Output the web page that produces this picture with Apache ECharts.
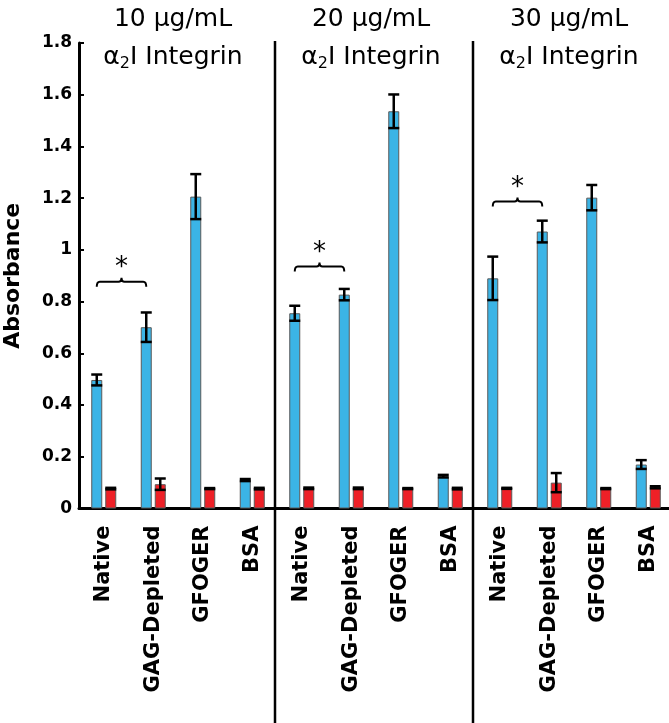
<!DOCTYPE html>
<html>
<head>
<meta charset="utf-8">
<script src="https://cdn.jsdelivr.net/npm/echarts@6/dist/echarts.min.js"></script>
<style>
html,body{margin:0;padding:0;background:#fff;}
#chart{width:669px;height:723px;}
</style>
</head>
<body>
<div id="chart"></div>
<script>
// ---- data ----
const categories = ['Native','GAG-Depleted','GFOGER','BSA','Native','GAG-Depleted','GFOGER','BSA','Native','GAG-Depleted','GFOGER','BSA'];
const panelTitles = ['10 μg/mL','20 μg/mL','30 μg/mL'];
const blueValues = [0.497, 0.701, 1.206, 0.110, 0.755, 0.827, 1.536, 0.125, 0.890, 1.071, 1.202, 0.170];
const blueErrors = [0.021, 0.057, 0.087, 0.004, 0.029, 0.022, 0.065, 0.005, 0.084, 0.042, 0.049, 0.017];
const redValues  = [0.077, 0.094, 0.077, 0.077, 0.078, 0.078, 0.077, 0.077, 0.078, 0.100, 0.077, 0.082];
const redErrors  = [0.003, 0.022, 0.002, 0.003, 0.003, 0.003, 0.002, 0.003, 0.002, 0.037, 0.002, 0.004];
const yTicks = [0, 0.2, 0.4, 0.6, 0.8, 1, 1.2, 1.4, 1.6, 1.8];
const panelBoundaries = [3, 7];           // separator after these category indices
const sigBrackets = [[0, 1, 0.877], [4, 5, 0.936], [8, 9, 1.187]]; // [from, to, height]

// ---- styles ----
const FONT = 'DejaVu Sans';
const BLUE = '#3bb4e6';
const RED = '#ee2027';
const BAR_W = 11;
const GAP_PX = 3;
const HALF = (BAR_W + GAP_PX) / 2;

const chart = echarts.init(document.getElementById('chart'), null, {renderer: 'canvas'});

const errData = [];
blueValues.forEach((v, i) => errData.push([i, v, blueErrors[i], 0]));
redValues.forEach((v, i) => errData.push([i, v, redErrors[i], 1]));

const option = {
  animation: false,
  backgroundColor: '#fff',
  grid: {left: 79, right: -4, top: 43, bottom: 214.5, containLabel: false, outerBoundsMode: 'none'},
  xAxis: {
    type: 'category',
    data: categories,
    boundaryGap: true,
    axisLine: {show: true, lineStyle: {color: '#000', width: 3}},
    axisTick: {show: false},
    axisLabel: {
      rotate: 90, interval: 0, margin: 17,
      fontFamily: FONT, fontWeight: 'bold', fontSize: 21, color: '#000'
    }
  },
  yAxis: {
    type: 'value',
    min: yTicks[0], max: yTicks[yTicks.length - 1], interval: 0.2,
    name: 'Absorbance',
    nameLocation: 'middle',
    nameRotate: 90,
    nameGap: 55,
    nameTextStyle: {fontFamily: FONT, fontWeight: 'bold', fontSize: 22, color: '#000'},
    axisLine: {show: true, lineStyle: {color: '#000', width: 3}},
    axisTick: {show: true, inside: true, length: 5, lineStyle: {color: '#000', width: 2}},
    axisLabel: {
      margin: 7, fontFamily: FONT, fontWeight: 'bold', fontSize: 17, color: '#000',
      formatter: v => String(Math.round(v * 10) / 10)
    },
    splitLine: {show: false}
  },
  series: [
    {
      type: 'bar', name: 'blue', data: blueValues, barWidth: BAR_W, barGap: (GAP_PX / BAR_W * 100) + '%',
      itemStyle: {color: BLUE, borderColor: '#5a5a5a', borderWidth: 1}, z: 2
    },
    {
      type: 'bar', name: 'red', data: redValues, barWidth: BAR_W,
      itemStyle: {color: RED, borderColor: '#5a5a5a', borderWidth: 1}, z: 2
    },
    {
      type: 'custom', name: 'errors', data: errData, z: 5,
      encode: {x: 0, y: 1},
      renderItem: function (params, api) {
        const i = api.value(0), v = api.value(1), e = api.value(2), s = api.value(3);
        const c = api.coord([i, v]);
        const x = c[0] + (s === 0 ? -HALF : HALF);
        const hi = api.coord([i, v + e])[1];
        const lo = api.coord([i, v - e])[1];
        const cap = BAR_W / 2;
        const st = {stroke: '#000', lineWidth: 2.5};
        return {type: 'group', children: [
          {type: 'line', shape: {x1: x, y1: hi, x2: x, y2: lo}, style: st},
          {type: 'line', shape: {x1: x - cap, y1: hi, x2: x + cap, y2: hi}, style: st},
          {type: 'line', shape: {x1: x - cap, y1: lo, x2: x + cap, y2: lo}, style: st}
        ]};
      }
    },
    {
      type: 'custom', name: 'separators', data: panelBoundaries.map(b => [b, yTicks[yTicks.length - 1]]), z: 6,
      encode: {x: 0, y: 1},
      renderItem: function (params, api) {
        const i = api.value(0);
        const a = api.coord([i, api.value(1)]);
        const b = api.coord([i + 1, api.value(1)]);
        const x = (a[0] + b[0]) / 2 - 2;
        return {type: 'line', shape: {x1: x, y1: a[1] - 2, x2: x, y2: api.getHeight()},
          style: {stroke: '#000', lineWidth: 2.5}};
      }
    },
    {
      type: 'custom', name: 'significance', data: sigBrackets, z: 6,
      encode: {x: 0, y: 2},
      renderItem: function (params, api) {
        const f = api.value(0), t = api.value(1), h = api.value(2);
        const p1 = api.coord([f, h]), p2 = api.coord([t, h]);
        const x1 = p1[0] - HALF, x2 = p2[0] - HALF, y = p1[1];
        const xm = (x1 + x2) / 2;
        const d = 'M' + x1 + ' ' + (y + 5) +
          ' Q' + x1 + ' ' + y + ' ' + (x1 + 3) + ' ' + y +
          ' L' + (xm - 3) + ' ' + y +
          ' Q' + xm + ' ' + y + ' ' + xm + ' ' + (y - 4) +
          ' Q' + xm + ' ' + y + ' ' + (xm + 3) + ' ' + y +
          ' L' + (x2 - 3) + ' ' + y +
          ' Q' + x2 + ' ' + y + ' ' + x2 + ' ' + (y + 5);
        return {type: 'group', children: [
          {type: 'path', shape: {pathData: d}, style: {stroke: '#000', lineWidth: 2, fill: null}},
          {type: 'text', x: xm, y: y - 13, style: {text: '*', fontFamily: FONT, fontSize: 26,
            fill: '#000', align: 'center', verticalAlign: 'middle'}}
        ]};
      }
    }
  ]
};

chart.setOption(option);

const graphics = [];
panelTitles.forEach((t, k) => {
  const a = chart.convertToPixel({xAxisIndex: 0}, 4 * k);
  const b = chart.convertToPixel({xAxisIndex: 0}, 4 * k + 3);
  const cx = (a + b) / 2 - 5;
  graphics.push({type: 'text', x: cx, y: 19, style: {text: t, fontFamily: FONT, fontSize: 25, fill: '#000',
    align: 'center', verticalAlign: 'middle'}});
  graphics.push({type: 'text', x: cx, y: 57, style: {
    text: '{a|α}{s|2}{a|I Integrin}',
    align: 'center', verticalAlign: 'middle',
    rich: {
      a: {fontFamily: FONT, fontSize: 25, lineHeight: 30, fill: '#000', color: '#000'},
      s: {fontFamily: FONT, fontSize: 16, lineHeight: 16, verticalAlign: 'bottom', fill: '#000', color: '#000'}
    }
  }});
});
chart.setOption({graphic: graphics});
</script>
</body>
</html>
